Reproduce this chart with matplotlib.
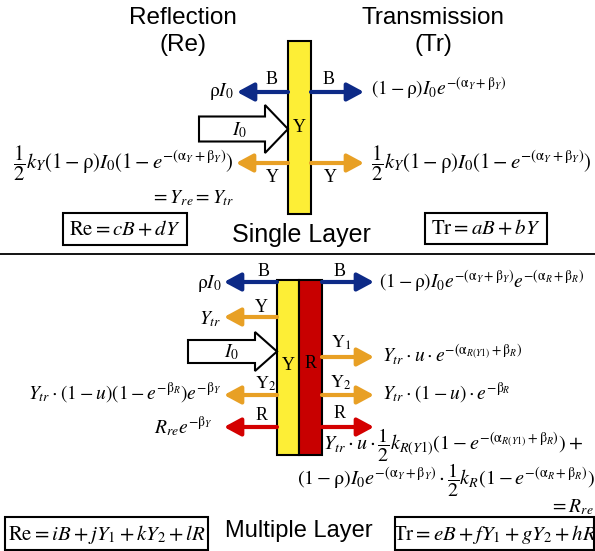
import matplotlib
matplotlib.use("Agg")
import matplotlib.pyplot as plt
from matplotlib.patches import Rectangle, Polygon

plt.rcParams['mathtext.fontset'] = 'stix'
plt.rcParams['font.family'] = ['Liberation Serif', 'DejaVu Serif']

# ---- labels / texts ----
headers = ["Reflection\n(Re)", "Transmission\n(Tr)"]
section_titles = ["Single Layer", "Multiple Layer"]
beam_labels = ["B", "Y", "R"]
single_formulas = {
    "refl_B": r"$\mathrm{\rho} I_0$",
    "trans_B": r"$(1-\mathrm{\rho})I_0e^{-(\mathrm{\alpha}_Y+\mathrm{\beta}_Y)}$",
    "refl_Y": r"$\dfrac{1}{2}k_Y(1-\mathrm{\rho})I_0(1-e^{-(\mathrm{\alpha}_Y+\mathrm{\beta}_Y)})$",
    "refl_Y2": r"$=Y_{re}=Y_{tr}$",
    "trans_Y": r"$\dfrac{1}{2}k_Y(1-\mathrm{\rho})I_0(1-e^{-(\mathrm{\alpha}_Y+\mathrm{\beta}_Y)})$",
    "box_re": r"$\mathrm{Re}=cB+dY$",
    "box_tr": r"$\mathrm{Tr}=aB+bY$",
}
multi_formulas = {
    "refl_B": r"$\mathrm{\rho} I_0$",
    "trans_B": r"$(1-\mathrm{\rho})I_0e^{-(\mathrm{\alpha}_Y+\mathrm{\beta}_Y)}e^{-(\mathrm{\alpha}_R+\mathrm{\beta}_R)}$",
    "refl_Y": r"$Y_{tr}$",
    "trans_Y1": r"$Y_{tr}\cdot u\cdot e^{-(\mathrm{\alpha}_{R(Y1)}+\mathrm{\beta}_R)}$",
    "refl_Y2": r"$Y_{tr}\cdot(1-u)(1-e^{-\mathrm{\beta}_R})e^{-\mathrm{\beta}_Y}$",
    "trans_Y2": r"$Y_{tr}\cdot(1-u)\cdot e^{-\mathrm{\beta}_R}$",
    "refl_R": r"$R_{re}e^{-\mathrm{\beta}_Y}$",
    "trans_R1": r"$Y_{tr}\cdot u\cdot\dfrac{1}{2}k_{R(Y1)}(1-e^{-(\mathrm{\alpha}_{R(Y1)}+\mathrm{\beta}_R)})+$",
    "trans_R2": r"$(1-\mathrm{\rho})I_0e^{-(\mathrm{\alpha}_Y+\mathrm{\beta}_Y)}\cdot\dfrac{1}{2}k_R(1-e^{-(\mathrm{\alpha}_R+\mathrm{\beta}_R)})$",
    "trans_R3": r"$=R_{re}$",
    "box_re": r"$\mathrm{Re}=iB+jY_1+kY_2+lR$",
    "box_tr": r"$\mathrm{Tr}=eB+fY_1+gY_2+hR$",
}

BLUE = "#0d2a87"
ORANGE = "#e8a025"
RED = "#d40000"
YELLOW = "#fdee36"
DRED = "#c80000"

fig = plt.figure(figsize=(5.95, 5.51), dpi=100)
ax = fig.add_axes([0, 0, 1, 1])
ax.set_xlim(0, 595)
ax.set_ylim(551, 0)
ax.axis('off')

SANS = 'Liberation Sans'
MS = 14  # math size
MSF = 15  # math size for fraction formulas
LS = 13  # label size


def arrow(x0, x1, y, color):
    ax.annotate('', xy=(x1, y), xytext=(x0, y),
                arrowprops=dict(arrowstyle='-|>,head_length=0.5,head_width=0.27',
                                mutation_scale=20, lw=3, color=color,
                                shrinkA=0, shrinkB=0))


def big_arrow(xl, xb, xt, yc, bh, hh):
    pts = [(xl, yc - bh), (xb, yc - bh), (xb, yc - hh), (xt, yc),
           (xb, yc + hh), (xb, yc + bh), (xl, yc + bh)]
    ax.add_patch(Polygon(pts, closed=True, facecolor='white', edgecolor='black', lw=1.5, zorder=3))


def box(x0, y0, x1, y1, txt):
    ax.add_patch(Rectangle((x0, y0), x1 - x0, y1 - y0, fill=False, edgecolor='black', lw=1.5))
    ax.text((x0 + x1) / 2, (y0 + y1) / 2 + 1, txt, ha='center', va='center', fontsize=15)


# ---- headers ----
ax.text(183, 18, headers[0].split("\n")[0], ha='center', va='center', fontsize=17.5, family=SANS)
ax.text(183, 45, headers[0].split("\n")[1], ha='center', va='center', fontsize=17.5, family=SANS)
ax.text(433, 18, headers[1].split("\n")[0], ha='center', va='center', fontsize=17.5, family=SANS)
ax.text(433, 45, headers[1].split("\n")[1], ha='center', va='center', fontsize=17.5, family=SANS)

# ---- single layer ----
ax.add_patch(Rectangle((288, 41), 23, 173, facecolor=YELLOW, edgecolor='black', lw=1.5, zorder=2))
ax.text(299.5, 127, "Y", ha='center', va='center', fontsize=LS, zorder=4)
arrow(288, 237, 92, BLUE)
arrow(311, 364, 92, BLUE)
ax.text(272, 80, beam_labels[0], ha='center', va='center', fontsize=LS)
ax.text(329, 80, beam_labels[0], ha='center', va='center', fontsize=LS)
ax.text(234, 92, single_formulas["refl_B"], ha='right', va='center', fontsize=MS)
ax.text(371, 88, single_formulas["trans_B"], ha='left', va='center', fontsize=MS)
big_arrow(199, 265, 288, 129, 12.5, 24)
ax.text(240, 130, r"$I_0$", ha='center', va='center', fontsize=MS, zorder=4)
arrow(288, 236, 163, ORANGE)
arrow(311, 364, 163, ORANGE)
ax.text(272, 177, beam_labels[1], ha='center', va='center', fontsize=LS)
ax.text(330, 177, beam_labels[1], ha='center', va='center', fontsize=LS)
ax.text(234, 163, single_formulas["refl_Y"], ha='right', va='center', fontsize=MSF)
ax.text(234, 198, single_formulas["refl_Y2"], ha='right', va='center', fontsize=MS)
ax.text(371, 163, single_formulas["trans_Y"], ha='left', va='center', fontsize=MSF)
box(63, 213, 187, 245, single_formulas["box_re"])
box(425, 213, 547, 244, single_formulas["box_tr"])
ax.text(301, 235, section_titles[0], ha='center', va='center', fontsize=18, family=SANS)

# separator
ax.plot([0, 595], [254, 254], color='black', lw=1.3)

# ---- multiple layer ----
ax.add_patch(Rectangle((277, 280), 22, 175, facecolor=YELLOW, edgecolor='black', lw=1.5, zorder=2))
ax.add_patch(Rectangle((299, 280), 23, 175, facecolor=DRED, edgecolor='black', lw=1.5, zorder=2))
ax.text(288, 366, "Y", ha='center', va='center', fontsize=LS, zorder=4)
ax.text(311, 364, "R", ha='center', va='center', fontsize=LS, zorder=4)

arrow(277, 224, 282, BLUE)
arrow(322, 374, 282, BLUE)
ax.text(264, 271, beam_labels[0], ha='center', va='center', fontsize=LS)
ax.text(340, 271, beam_labels[0], ha='center', va='center', fontsize=LS)
ax.text(222, 283, multi_formulas["refl_B"], ha='right', va='center', fontsize=MS)
ax.text(379, 281, multi_formulas["trans_B"], ha='left', va='center', fontsize=MS)

arrow(277, 224, 317, ORANGE)
ax.text(261, 307, beam_labels[1], ha='center', va='center', fontsize=LS)
ax.text(221, 319, multi_formulas["refl_Y"], ha='right', va='center', fontsize=MS)

big_arrow(188, 255, 277, 351.5, 11.5, 19.5)
ax.text(232, 352, r"$I_0$", ha='center', va='center', fontsize=MS, zorder=4)

arrow(322, 374, 357, ORANGE)
ax.text(341, 343, r"$\mathrm{Y}_1$", ha='center', va='center', fontsize=LS)
ax.text(382, 355, multi_formulas["trans_Y1"], ha='left', va='center', fontsize=MS)

arrow(277, 224, 395, ORANGE)
arrow(322, 374, 395, ORANGE)
ax.text(266, 384, r"$\mathrm{Y}_2$", ha='center', va='center', fontsize=LS)
ax.text(341, 383, r"$\mathrm{Y}_2$", ha='center', va='center', fontsize=LS)
ax.text(221, 393, multi_formulas["refl_Y2"], ha='right', va='center', fontsize=MS)
ax.text(382, 393, multi_formulas["trans_Y2"], ha='left', va='center', fontsize=MS)

arrow(277, 224, 427, RED)
arrow(322, 374, 427, RED)
ax.text(262, 415, beam_labels[2], ha='center', va='center', fontsize=LS)
ax.text(340, 414, beam_labels[2], ha='center', va='center', fontsize=LS)
ax.text(213, 427, multi_formulas["refl_R"], ha='right', va='center', fontsize=MS)

ax.text(323, 445, multi_formulas["trans_R1"], ha='left', va='center', fontsize=14.5)
ax.text(595, 480, multi_formulas["trans_R2"], ha='right', va='center', fontsize=14.5)
ax.text(594, 507, multi_formulas["trans_R3"], ha='right', va='center', fontsize=MS)

box(5, 517, 208, 550, multi_formulas["box_re"])
box(395, 517, 594, 550, multi_formulas["box_tr"])
ax.text(299, 531, section_titles[1], ha='center', va='center', fontsize=17, family=SANS)

fig.savefig("out.png", dpi=100)
